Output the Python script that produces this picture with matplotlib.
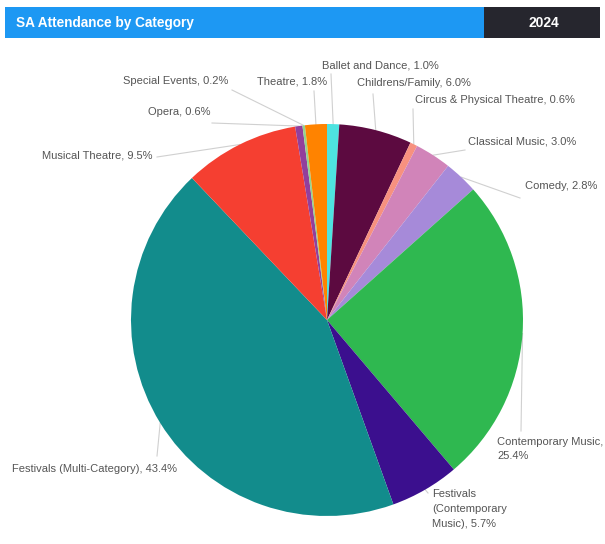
import matplotlib.pyplot as plt
from matplotlib.patches import Rectangle
import numpy as np

plt.rcParams['font.family'] = ['Liberation Sans', 'DejaVu Sans']

# attendance share by category, clockwise from 12 o'clock
categories = ["Ballet and Dance", "Childrens/Family", "Circus & Physical Theatre",
              "Classical Music", "Comedy", "Contemporary Music",
              "Festivals (Contemporary Music)", "Festivals (Multi-Category)",
              "Musical Theatre", "Opera", "Special Events", "Theatre"]
shares = [1.0, 6.0, 0.6, 3.0, 2.8, 25.4, 5.7, 43.4, 9.5, 0.6, 0.2, 1.8]
colors = ["#4ee3e0", "#5c0a40", "#f7917f", "#d184b9", "#a68ad9", "#2fb850",
          "#3b0f8e", "#128c8c", "#f53f31", "#923f9c", "#93d48c", "#ff8300"]
# label text as wrapped on the chart
label_text = ["Ballet and Dance, 1.0%", "Childrens/Family, 6.0%",
              "Circus & Physical Theatre, 0.6%", "Classical Music, 3.0%",
              "Comedy, 2.8%", "Contemporary Music,\n25.4%",
              "Festivals\n(Contemporary\nMusic), 5.7%",
              "Festivals (Multi-Category), 43.4%", "Musical Theatre, 9.5%",
              "Opera, 0.6%", "Special Events, 0.2%", "Theatre, 1.8%"]

W, H = 605, 544
fig = plt.figure(figsize=(W / 100, H / 100), dpi=100)
ax = fig.add_axes([0, 0, 1, 1])
ax.set_xlim(0, W)
ax.set_ylim(H, 0)
ax.axis('off')

# header strip
ax.add_patch(Rectangle((5, 7), 479, 31, color="#1d98f3", lw=0))
ax.add_patch(Rectangle((484, 7), 116, 31, color="#26262e", lw=0))
ax.text(16, 23, "SA Attendance by Category", color="white", fontsize=9.8,
        fontweight="bold", va="center", ha="left")
ax.text(544, 23, "2024", color="white", fontsize=10, fontweight="bold",
        va="center", ha="center")

# pie drawn in its own axes so the wedge angles are standard
cx, cy, R = 327, 320, 196
pax = fig.add_axes([(cx - R) / W, (H - cy - R) / H, 2 * R / W, 2 * R / H])
wedges, _ = pax.pie(shares, colors=colors, startangle=90, counterclock=False,
                    wedgeprops=dict(linewidth=0))
pax.set_xlim(-1, 1)
pax.set_ylim(-1, 1)
pax.set_aspect('auto')

# label placement: (text x, text y, ha, leader end x, leader end y)
layout = [
    (322, 65, "left", 331, 74),
    (357, 83, "left", 373, 94),
    (415, 100, "left", 413, 109),
    (468, 141, "left", 465, 150),
    (525, 186, "left", 520, 198),
    (497, 449, "left", 521, 431),
    (432, 509, "left", 428, 493),
    (12, 469, "left", 157, 456),
    (153, 156, "right", 157, 157),
    (210, 112, "right", 212, 123),
    (228, 81, "right", 232, 90),
    (327, 82, "right", 314, 91),
]

for w, txt, (tx, ty, ha, lx, ly) in zip(wedges, label_text, layout):
    mid = np.deg2rad((w.theta1 + w.theta2) / 2)
    ex = cx + R * np.cos(mid)
    ey = cy - R * np.sin(mid)
    ax.plot([ex, lx], [ey, ly], color="#d0d0d0", lw=0.8, zorder=0)
    ax.text(tx, ty, txt, color="#555555", fontsize=8, ha=ha, va="center",
            linespacing=1.6)

fig.savefig("out.png", dpi=100)
